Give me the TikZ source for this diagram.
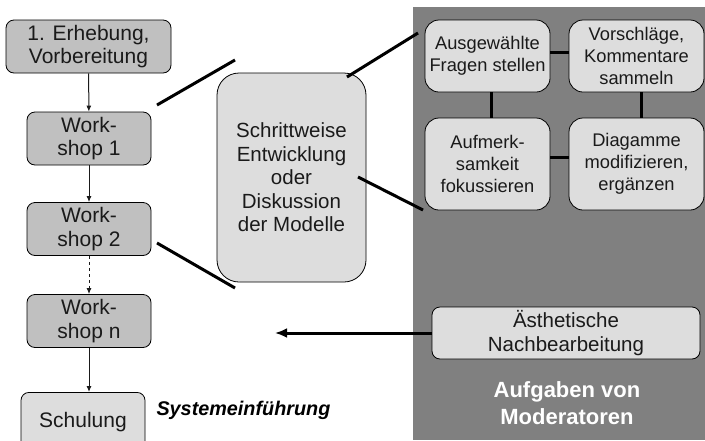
\documentclass[tikz,border=0pt]{standalone}
\usepackage{fontspec}
\setmainfont{Liberation Sans}
\usetikzlibrary{arrows.meta}
\definecolor{stepfill}{HTML}{C0C0C0}
\definecolor{taskfill}{HTML}{DDDDDD}
\definecolor{panelfill}{HTML}{808080}
\definecolor{ink}{HTML}{1A1A1A}
\tikzset{
  phase/.style={
    rounded corners=8pt,
    draw=black,
    line width=0.8pt,
    fill=stepfill,
    align=center,
    text=ink,
    inner sep=0pt,
    font=\fontsize{21}{23.5}\selectfont
  },
  wsbox/.style={phase, minimum width=124pt, minimum height=53pt},
  task/.style={
    rounded corners=14pt,
    draw=black,
    line width=0.8pt,
    fill=taskfill,
    align=center,
    text=ink,
    inner sep=0pt,
    font=\fontsize{18.3}{22}\selectfont
  },
  flow/.style={line width=1pt, draw=ink, -{Latex[length=6pt,width=5pt]}},
  zoomline/.style={line width=3pt, draw=black},
  link/.style={line width=3pt, draw=black},
  feedback/.style={line width=3pt, draw=black, -{Latex[length=12pt,width=10pt]}},
  panellabel/.style={font=\fontsize{22}{27}\selectfont\bfseries, text=white, align=center},
  sidenote/.style={font=\fontsize{19.8}{23}\selectfont\bfseries\itshape, text=black, anchor=west}
}

\begin{document}
\begin{tikzpicture}[x=1pt,y=-1pt]
\clip (0,0) rectangle (705,440);
\fill[white] (0,0) rectangle (705,440);

% moderator panel
\node[fill=panelfill, inner sep=0pt, minimum width=292pt, minimum height=433pt, anchor=north west] (panel) at (413,7) {};

% process column
\node[phase, minimum width=165pt, minimum height=53pt] (prep) at (88.5,46.5) {1. Erhebung,\\Vorbereitung};
\node[wsbox] (ws1) at (89,138.5) {Work-\\shop 1};
\node[wsbox] (ws2) at (89,229) {Work-\\shop 2};
\node[wsbox] (wsn) at (89,321) {Work-\\shop n};
\node[phase, fill=taskfill, minimum width=124pt, minimum height=60pt, anchor=north] (train) at (83,392) {\raisebox{-4pt}{Schulung}};
\node[sidenote] (intro) at (153,410) {Systemeinführung};

% model discussion
\node[task, rounded corners=22pt, font=\fontsize{20.5}{23.5}\selectfont, minimum width=149pt, minimum height=209pt] (model) at (291.5,177.5) {Schrittweise\\Entwicklung\\oder\\Diskussion\\der Modelle};

% moderator tasks
\node[task, minimum width=125pt, minimum height=72pt] (ask) at (487.5,56) {Ausgewählte\\Fragen stellen};
\node[task, minimum width=135pt, minimum height=72pt] (collect) at (636.5,56) {Vorschläge,\\Kommentare\\sammeln};
\node[task, minimum width=125pt, minimum height=92pt] (focus) at (487.5,164) {Aufmerk-\\samkeit\\fokussieren};
\node[task, minimum width=135pt, minimum height=92pt] (modify) at (636.5,164) {Diagamme\\modifizieren,\\ergänzen};
\node[task, rounded corners=8pt, font=\fontsize{20.5}{23.5}\selectfont, minimum width=268pt, minimum height=52pt] (polish) at (566,333) {Ästhetische\\Nachbearbeitung};
\node[panellabel] (title) at (567,403) {Aufgaben von\\Moderatoren};

% zoom lines
\coordinate (z1a) at (157,105);
\coordinate (z1b) at (235,60);
\coordinate (z2a) at (157,243);
\coordinate (z2b) at (235,288);
\coordinate (z3a) at (347,77);
\coordinate (z3b) at (418,33);
\coordinate (z4a) at (358,177);
\coordinate (z4b) at (423,210);
\coordinate (back) at (275,333);

\draw[flow] (prep) -- (ws1);
\draw[flow] (ws1) -- (ws2);
\draw[flow, dashed] (ws2) -- (wsn);
\draw[flow] (wsn.south) -- (wsn.south |- train.north);

\draw[zoomline] (z1a) -- (z1b);
\draw[zoomline] (z2a) -- (z2b);
\draw[zoomline] (z3a) -- (z3b);
\draw[zoomline] (z4a) -- (z4b);

\draw[link] ([yshift=4pt]ask.east) -- ([yshift=4pt]collect.west);
\draw[link] ([xshift=4pt]ask.south) -- ([xshift=4pt]focus.north);
\draw[link] ([xshift=5pt]collect.south) -- ([xshift=5pt]modify.north);
\draw[link] ([yshift=7pt]focus.east) -- ([yshift=7pt]modify.west);
\draw[feedback] (polish.west) -- (back);

\end{tikzpicture}
\end{document}
